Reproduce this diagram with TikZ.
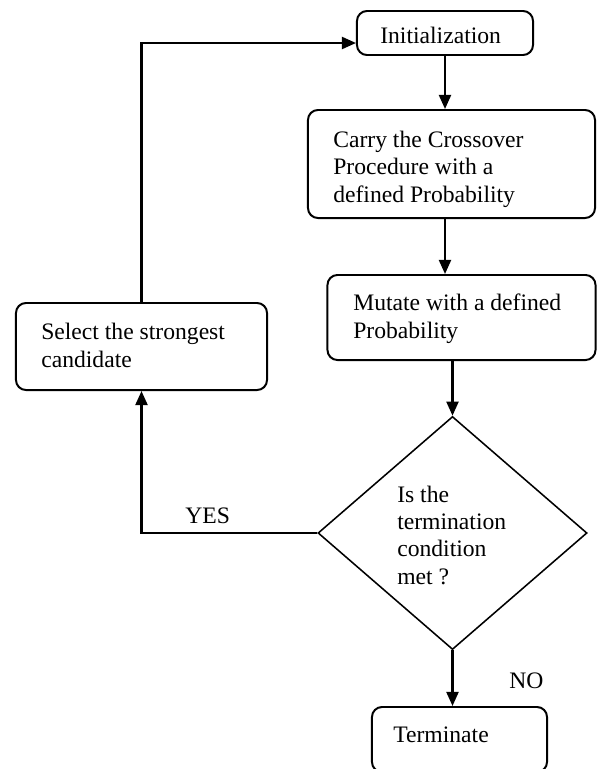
\documentclass[tikz,border=0pt]{standalone}
\usepackage{fontspec}
\setmainfont{Liberation Serif}
\usetikzlibrary{arrows.meta,shapes.geometric}

\tikzset{
  stepbox/.style={draw,rounded corners=0.25cm,line width=1.4pt},
  decide/.style={draw,diamond,line width=1.1pt,inner sep=0pt},
  txt/.style={anchor=base west,inner sep=0pt,align=left,font=\fontsize{16.8}{19.3}\selectfont},
  arr/.style={line width=1.6pt,-{Triangle[length=10pt,width=8.5pt]}}
}

\begin{document}
\begin{tikzpicture}[x=0.025cm,y=-0.025cm]
\useasboundingbox (0,0) rectangle (597,769);
% boxes
\node[stepbox,minimum width=4.4cm,minimum height=1.1cm] (init) at (445,33) {};
\node[stepbox,minimum width=7.175cm,minimum height=2.7cm] (cross) at (451.5,164) {};
\node[stepbox,minimum width=6.7cm,minimum height=2.125cm] (mutate) at (461.5,317.5) {};
\node[stepbox,minimum width=6.275cm,minimum height=2.175cm] (sel) at (141.5,346.5) {};
\node[decide,minimum width=6.725cm,minimum height=5.825cm] (dia) at (452.5,533) {};
\node[stepbox,minimum width=4.375cm,minimum height=1.625cm] (term) at (459.5,739.5) {};
% texts (base = last line)
\node[txt] (init-t) at (380,43) {Initialization};
\node[txt] (cross-t) at (333,202) {Carry the Crossover\\Procedure with a\\defined Probability};
\node[txt] (mutate-t) at (353,338) {Mutate with a defined\\Probability};
\node[txt] (sel-t) at (41,367) {Select the strongest\\candidate};
\node[txt] (dia-t) at (397,584) {Is the\\termination\\condition\\met ?};
\node[txt] (term-t) at (393,742) {Terminate};
\node[txt] (yes) at (185,523) {YES};
\node[txt] (no) at (509,688) {NO};
% connectors
\draw[arr] (init.south) -- (init.south |- cross.north);
\draw[arr] (cross.south -| init) -- (mutate.north -| init);
\draw[arr] (mutate.south -| dia.north) -- (dia.north);
\draw[arr] (dia.south) -- (dia.south |- term.north);
\draw[arr] (dia.west) -| (sel.south);
\draw[arr] (sel.north) |- ([yshift=-0.25cm]init.west);
\end{tikzpicture}
\end{document}
